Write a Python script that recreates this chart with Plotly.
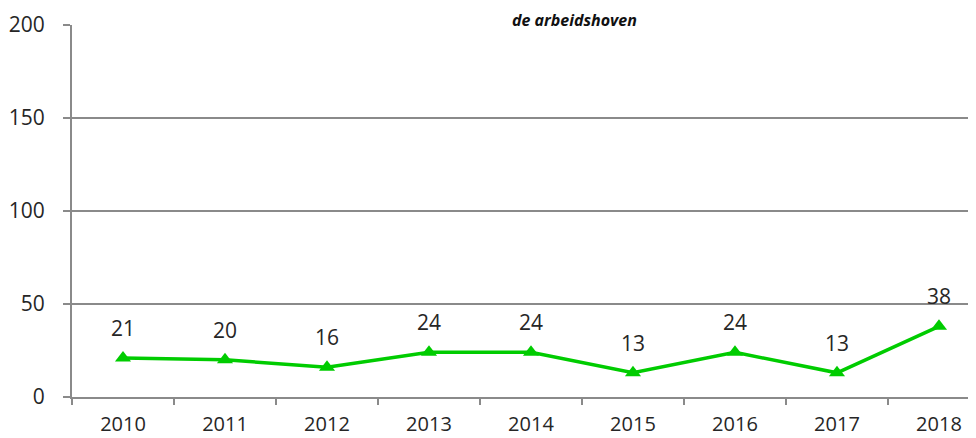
import plotly.graph_objects as go

years = ["2010", "2011", "2012", "2013", "2014", "2015", "2016", "2017", "2018"]
values = [21, 20, 16, 24, 24, 13, 24, 13, 38]
title_text = "de arbeidshoven"

FONT = "Open Sans"
GREEN = "#00CC00"
GRID = "#8A8A8A"
TXT = "#262626"

fig = go.Figure()
fig.add_trace(go.Scatter(
    x=years, y=values,
    mode="lines+markers",
    line=dict(color=GREEN, width=3.5),
    marker=dict(symbol="triangle-up", size=14, color=GREEN),
    cliponaxis=False,
    showlegend=False,
))

annotations = [dict(
    x=i, y=v, xref="x", yref="y",
    text=str(v), showarrow=False,
    yshift=30, xanchor="center", yanchor="middle",
    font=dict(family=FONT, size=21, color=TXT),
) for i, v in enumerate(values)]

annotations.append(dict(
    text="<b><i>" + title_text + "</i></b>",
    xref="paper", yref="paper",
    x=(574 - 72) / 904, y=1 + 17 / 372,
    xanchor="center", yanchor="top",
    borderpad=0,
    showarrow=False,
    font=dict(family=FONT, size=16, color="#111111"),
))

fig.update_layout(
    width=968, height=430,
    margin=dict(l=64, r=0, t=17, b=41),
    paper_bgcolor="white", plot_bgcolor="white",
    font=dict(family=FONT, size=21, color=TXT),
    xaxis=dict(
        type="category",
        range=[-0.5, 8.363],
        automargin=False,
        showgrid=False,
        showline=True, linecolor=GRID, linewidth=2,
        ticks="outside", tickson="boundaries", ticklen=6, tickwidth=2, tickcolor=GRID,
        tickfont=dict(family=FONT, size=20, color=TXT),
        ticklabelstandoff=8,
        fixedrange=True,
    ),
    yaxis=dict(
        range=[0, 200],
        automargin=False,
        tickvals=[0, 50, 100, 150, 200],
        showgrid=True, gridcolor=GRID, gridwidth=2,
        showline=True, linecolor=GRID, linewidth=2,
        zeroline=False,
        ticks="outside", ticklen=7, tickwidth=2, tickcolor=GRID,
        tickfont=dict(family=FONT, size=21, color=TXT),
        ticklabelstandoff=14,
        fixedrange=True,
    ),
    annotations=annotations,
)

fig.write_html("out.html")
